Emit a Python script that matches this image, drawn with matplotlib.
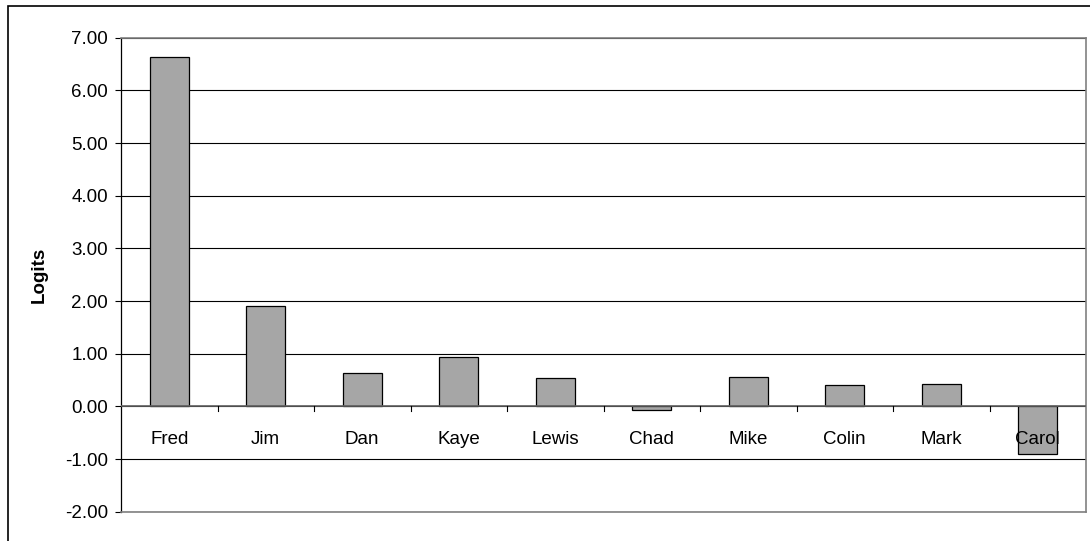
import matplotlib
matplotlib.use('Agg')
import matplotlib.pyplot as plt
from matplotlib.patches import Rectangle
import numpy as np

names = ['Fred', 'Jim', 'Dan', 'Kaye', 'Lewis', 'Chad', 'Mike', 'Colin', 'Mark', 'Carol']
logits = [6.63, 1.91, 0.63, 0.94, 0.54, -0.06, 0.56, 0.40, 0.43, -0.90]
yticks = [-2, -1, 0, 1, 2, 3, 4, 5, 6, 7]

plt.rcParams['font.family'] = ['Liberation Sans', 'DejaVu Sans']

fig = plt.figure(figsize=(10.9, 5.41), dpi=100)
# outer chart-area frame, running off the right and bottom edges
fig.patches.append(Rectangle((8 / 1090, -0.05), 1.1, 1 - 6 / 541 + 0.05,
                             transform=fig.transFigure, fill=False,
                             edgecolor='black', linewidth=1.2))

ax = fig.add_axes([121 / 1090, 1 - 511.7 / 541, (1086 - 121) / 1090, (511.7 - 37.7) / 541])

x = np.arange(len(names))
ax.bar(x, logits, width=0.4, color='#a6a6a6', edgecolor='black', linewidth=0.9, zorder=3)

ax.set_xlim(-0.5, len(names) - 0.5)
ax.set_ylim(-2, 7)
ax.set_yticks(yticks)
ax.set_yticklabels(['%.2f' % v for v in yticks], fontsize=13.5)
ax.yaxis.grid(True, color='black', linewidth=0.8, zorder=0)
ax.tick_params(axis='y', direction='out', length=4.5, width=0.8, pad=5)

# x axis sits at zero, ticks at category boundaries
ax.set_xticks([])
ax.axhline(0, color='#606060', linewidth=1.2, zorder=4)
for b in np.arange(0.5, len(names) - 0.5, 1.0):
    ax.plot([b, b], [0, -0.08], color='black', linewidth=0.8, zorder=4, clip_on=False)
for i, n in enumerate(names):
    ax.annotate(n, (i, 0), xytext=(0, -18), textcoords='offset points',
                ha='center', va='top', fontsize=13.5, zorder=5)

for s in ['top', 'right', 'bottom']:
    ax.spines[s].set_color('#808080')
    ax.spines[s].set_linewidth(1.2)
ax.spines['left'].set_color('black')
ax.spines['left'].set_linewidth(0.9)

ax.set_ylabel('Logits', fontsize=13.5, fontweight='bold', labelpad=12)

fig.savefig('out.png', dpi=100)
